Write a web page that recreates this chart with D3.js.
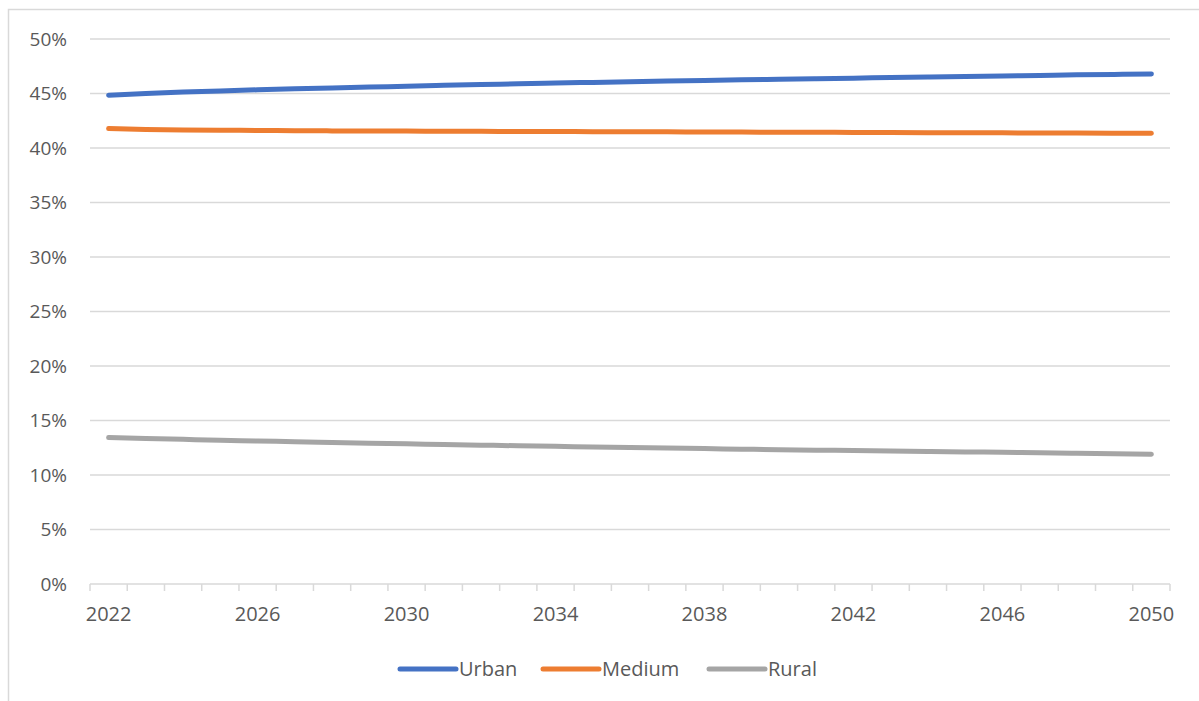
<!DOCTYPE html>
<html>
<head>
<meta charset="utf-8">
<script src="https://cdn.jsdelivr.net/npm/d3@7"></script>
<style>
  body { margin: 0; background: #fff; }
  svg { display: block; }
  text { font-family: "Open Sans", sans-serif; fill: #595959; }
</style>
</head>
<body>
<svg id="drawing_region"></svg>
<script>
const years = d3.range(2022, 2051);
const tickYears = [2022, 2026, 2030, 2034, 2038, 2042, 2046, 2050];
const yTicks = [0, 0.05, 0.10, 0.15, 0.20, 0.25, 0.30, 0.35, 0.40, 0.45, 0.50];
const seriesNames = ['Urban', 'Medium', 'Rural'];
const seriesColors = ['#4472C4', '#ED7D31', '#A5A5A5'];

const urban = [44.85, 45.0, 45.13, 45.24, 45.34, 45.43, 45.51, 45.59, 45.67, 45.75, 45.82, 45.89, 45.96,
  46.02, 46.08, 46.14, 46.2, 46.26, 46.31, 46.36, 46.41, 46.46, 46.51, 46.56, 46.61, 46.66, 46.71, 46.75, 46.8];
const medium = [41.78, 41.7, 41.66, 41.63, 41.61, 41.59, 41.57, 41.56, 41.55, 41.54, 41.53, 41.52, 41.51,
  41.5, 41.49, 41.48, 41.47, 41.46, 41.45, 41.44, 41.43, 41.42, 41.41, 41.4, 41.39, 41.38, 41.37, 41.36, 41.35];
const rural = [13.43, 13.35, 13.27, 13.19, 13.12, 13.05, 12.98, 12.92, 12.86, 12.8, 12.74, 12.68, 12.63,
  12.57, 12.52, 12.47, 12.42, 12.37, 12.32, 12.28, 12.24, 12.2, 12.16, 12.12, 12.08, 12.04, 12.0, 11.96, 11.9];
const seriesValues = [urban, medium, rural];

const config = {
    width: 1199,
    height: 701,
    margin: {top: 39, right: 29, bottom: 116, left: 90},
};

const svg = d3.select('#drawing_region')
    .attr('width', config.width)
    .attr('height', config.height);

// chart frame
svg.append('path')
    .attr('d', `M8.5,${config.height} V9.5 H${config.width}`)
    .attr('fill', 'none')
    .attr('stroke', '#d9d9d9')
    .attr('stroke-width', 1.5);

const inner_width = config.width - config.margin.left - config.margin.right;
const inner_height = config.height - config.margin.top - config.margin.bottom - 1;

const chart = svg.append('g')
    .attr('transform', `translate(${config.margin.left}, ${config.margin.top})`);

const xscale = d3.scaleBand()
    .domain(years)
    .range([0, inner_width]);

const yscale = d3.scaleLinear()
    .domain([0, 0.5])
    .range([inner_height, 0]);

// gridlines
chart.selectAll('.grid')
    .data(yTicks.filter(d => d > 0))
    .enter()
    .append('line')
    .attr('x1', 0)
    .attr('x2', inner_width)
    .attr('y1', d => yscale(d))
    .attr('y2', d => yscale(d))
    .attr('stroke', '#d9d9d9')
    .attr('stroke-width', 1.5);

// y axis labels
const yaxis = d3.axisLeft(yscale)
    .tickValues(yTicks)
    .tickFormat(d3.format('.0%'))
    .tickSize(0)
    .tickPadding(23);

chart.append('g')
    .call(yaxis)
    .call(g => g.select('.domain').remove())
    .selectAll('text')
    .attr('font-family', '"Open Sans", sans-serif')
    .attr('fill', '#595959')
    .attr('font-size', '19px');

// x axis: tick marks at every band edge, labels every 4 years
const xaxis_group = chart.append('g')
    .attr('transform', `translate(0, ${inner_height})`);

xaxis_group.append('line')
    .attr('x1', 0).attr('x2', inner_width)
    .attr('stroke', '#d9d9d9').attr('stroke-width', 1.5);

xaxis_group.selectAll('.tickmark')
    .data(years.concat([2051]))
    .enter()
    .append('line')
    .attr('x1', (d, i) => i * xscale.step())
    .attr('x2', (d, i) => i * xscale.step())
    .attr('y1', 0).attr('y2', 7)
    .attr('stroke', '#d9d9d9').attr('stroke-width', 1.5);

xaxis_group.selectAll('.xlabel')
    .data(tickYears)
    .enter()
    .append('text')
    .attr('x', d => xscale(d) + xscale.bandwidth() / 2)
    .attr('y', 37)
    .attr('text-anchor', 'middle')
    .attr('font-size', '20px')
    .text(d => d);

// lines
const line = d3.line()
    .x((d, i) => xscale(years[i]) + xscale.bandwidth() / 2)
    .y(d => yscale(d / 100))
    .curve(d3.curveMonotoneX);

chart.selectAll('.series')
    .data(seriesValues)
    .enter()
    .append('path')
    .attr('d', d => line(d))
    .attr('fill', 'none')
    .attr('stroke', (d, i) => seriesColors[i])
    .attr('stroke-width', 5)
    .attr('stroke-linecap', 'round')
    .attr('stroke-linejoin', 'round');

// legend
const legendX = [400, 543, 709];
const legend = svg.append('g');
seriesNames.forEach((name, i) => {
    legend.append('line')
        .attr('x1', legendX[i]).attr('x2', legendX[i] + 56)
        .attr('y1', 669).attr('y2', 669)
        .attr('stroke', seriesColors[i])
        .attr('stroke-width', 5)
        .attr('stroke-linecap', 'round');
    legend.append('text')
        .attr('x', legendX[i] + 59)
        .attr('y', 676)
        .attr('font-size', '20px')
        .text(name);
});
</script>
</body>
</html>
